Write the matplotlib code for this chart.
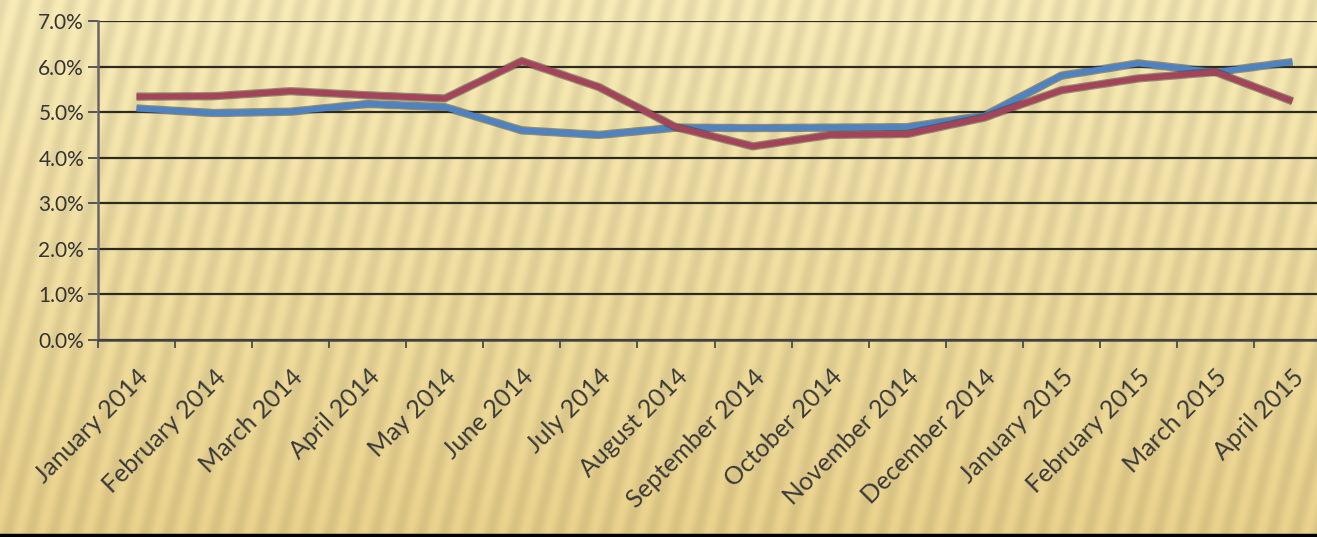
import numpy as np
import matplotlib
matplotlib.use("Agg")
import matplotlib.pyplot as plt
import matplotlib.patheffects as pe
from matplotlib.ticker import PercentFormatter

# ---- data ----
months = ["January 2014", "February 2014", "March 2014", "April 2014", "May 2014",
          "June 2014", "July 2014", "August 2014", "September 2014", "October 2014",
          "November 2014", "December 2014", "January 2015", "February 2015",
          "March 2015", "April 2015"]
blue_vals = [5.08, 4.98, 5.01, 5.18, 5.11, 4.60, 4.50, 4.66, 4.65, 4.66,
             4.67, 4.92, 5.80, 6.07, 5.88, 6.10]
red_vals = [5.34, 5.35, 5.46, 5.37, 5.30, 6.12, 5.55, 4.67, 4.25, 4.50,
            4.52, 4.88, 5.48, 5.74, 5.88, 5.24]
yticks = [0, 1, 2, 3, 4, 5, 6, 7]

W, H = 1317, 537
fig = plt.figure(figsize=(W / 100, H / 100), dpi=100)

# ---- striped yellow background ----
yy, xx = np.mgrid[0:H, 0:W]
stripe = 0.5 + 0.5 * np.sin(2 * np.pi * (xx - 0.25 * (H - yy)) / 23.0)
top = np.array([0.975, 0.925, 0.72])
bot = np.array([0.92, 0.825, 0.55])
t = (yy / H)[..., None]
base = top * (1 - t) + bot * t
img = base * (1 - 0.08 * stripe[..., None])
bg = fig.add_axes([0, 0, 1, 1], zorder=-10)
bg.imshow(np.clip(img, 0, 1), aspect="auto", interpolation="bilinear")
bg.axis("off")

ax = fig.add_axes([98 / W, 197 / H, 1233 / W, 319 / H])
ax.set_facecolor("none")

x = np.arange(len(months))
shadow = [pe.Stroke(linewidth=6.0, foreground="#3a3a3a", alpha=0.5), pe.Normal()]
ax.plot(x, blue_vals, color="#4f82c0", linewidth=4.3, solid_capstyle="butt",
        path_effects=shadow, zorder=3)
ax.plot(x, red_vals, color="#a3445a", linewidth=4.3, solid_capstyle="butt",
        path_effects=shadow, zorder=4)

ax.set_xlim(-0.5, len(months) - 0.5)
ax.set_ylim(0, 7)
ax.set_yticks(yticks)
ax.yaxis.set_major_formatter(PercentFormatter(decimals=1))
ax.grid(axis="y", color="#2b2b22", linewidth=1.6)
ax.set_axisbelow(True)

ax.set_xticks(np.arange(len(months) + 1) - 0.5, minor=False)
ax.set_xticklabels([])
ax.set_xticks(x, minor=True)
ax.set_xticklabels(months, minor=True, rotation=45, ha="right",
                   rotation_mode="anchor", fontsize=18, color="#3a3a3a",
                   family="Lato")
ax.tick_params(axis="x", which="minor", length=0, pad=18)
ax.tick_params(axis="x", which="major", length=6, width=1.4, color="#555555",
               direction="out")
ax.tick_params(axis="y", length=7, width=1.4, color="#555555",
               labelsize=15, labelcolor="#333333", pad=3)
for lab in ax.get_yticklabels():
    lab.set_family("Lato")

for s in ["top", "right"]:
    ax.spines[s].set_visible(False)
ax.spines["left"].set_color("#666666")
ax.spines["left"].set_linewidth(1.8)
ax.spines["bottom"].set_color("#444444")
ax.spines["bottom"].set_linewidth(1.8)

# dark border line at the bottom edge
fig.add_artist(plt.Line2D([0, 1], [0.004, 0.004], color="black", linewidth=2.5,
                          transform=fig.transFigure))

fig.savefig("out.png", dpi=100)
